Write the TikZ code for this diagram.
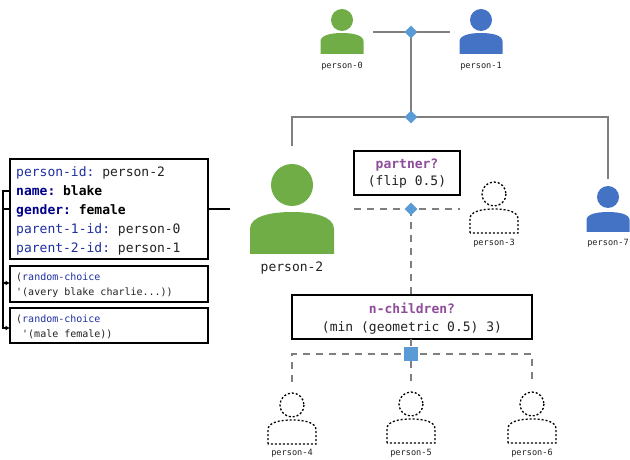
\documentclass[tikz,border=0pt]{standalone}
\usepackage{fontspec}
\setmainfont{DejaVu Sans Mono}[Ligatures=TeXOff]
\usetikzlibrary{arrows.meta,shapes.geometric}
\definecolor{pgreen}{HTML}{70AD47}
\definecolor{pblue}{HTML}{4472C4}
\definecolor{dmd}{HTML}{5B9BD5}
\definecolor{kw}{HTML}{1F2FA0}
\definecolor{kwb}{HTML}{00008B}
\definecolor{purp}{HTML}{8E4C9A}
\definecolor{lin}{HTML}{7F7F7F}
\definecolor{txt}{HTML}{222222}
\tikzset{
 x=1bp,y=-1bp,
 solidline/.style={draw=lin,line width=1.6bp},
 dashline/.style={draw=lin,line width=1.5bp,dash pattern=on 7bp off 6bp},
 blk/.style={draw=black,line width=1.3bp},
 junction/.style={diamond,fill=dmd,draw=none,minimum size=13bp,inner sep=0pt},
 squarej/.style={rectangle,fill=dmd,draw=none,minimum size=14bp,inner sep=0pt},
 box/.style={rectangle,draw=black,line width=1.7bp,fill=white,inner sep=0pt,outer sep=0pt,anchor=north west,align=left},
 tiny label/.style={font=\fontsize{8.6bp}{10bp}\selectfont,text=txt,inner sep=0pt},
 pdash/.style={draw=black,line width=1.3bp,dash pattern=on 2bp off 2bp,fill=white},
}
% #1 cx, #2 head cy, #3 body top, #4 body bottom, #5 halfwidth, #6 head r, #7 style
\newcommand{\personshape}[7]{%
 \path[#7] (#1,#2) circle[radius=#6];
 \path[#7] (#1-#5,#4) -- (#1-#5,#3+0.4*#4-0.4*#3) .. controls (#1-#5,#3+0.1*#4-0.1*#3) and (#1-0.5*#5,#3) .. (#1,#3) .. controls (#1+0.5*#5,#3) and (#1+#5,#3+0.1*#4-0.1*#3) .. (#1+#5,#3+0.4*#4-0.4*#3) -- (#1+#5,#4) -- cycle;
}
\begin{document}
\frenchspacing
\begin{tikzpicture}
\useasboundingbox (0,0) rectangle (630,460);
\path[fill=white] (0,0) rectangle (630,460);
% coordinates
\coordinate (l0) at (373,32); \coordinate (r0) at (450,32);
\coordinate (tl) at (292,117); \coordinate (tr) at (608,117);
\coordinate (tle) at (292,146); \coordinate (tre) at (608,179);
\coordinate (pl) at (354,209); \coordinate (pr) at (460,209);
\coordinate (cl) at (292,354); \coordinate (cr) at (532,354);
\coordinate (cle) at (292,382); \coordinate (cme) at (411,381); \coordinate (cre) at (532,382);
\coordinate (stub) at (230,209);
% boxes
\node[box,minimum width=198bp,minimum height=100bp] (main) at (10,159) {};
\node[box,minimum width=198bp,minimum height=36bp] (c1) at (10,266) {};
\node[box,minimum width=198bp,minimum height=35bp] (c2) at (10,308) {};
\node[box,minimum width=106bp,minimum height=44bp] (partner) at (354,151) {};
\node[box,minimum width=240bp,minimum height=44bp] (nch) at (292,295) {};
% junction anchors
\coordinate (j0) at (411,32);
\coordinate (j1) at (411,117);
\coordinate (j2) at (411,209);
\coordinate (j3) at (411,354);
% connectors
\draw[solidline] (l0) -- (j0) -- (r0);
\draw[solidline] (j0) -- (j1);
\draw[solidline] (tle) -- (tl) -- (j1) -- (tr) -- (tre);
\draw[dashline] (pl) -- (j2) -- (pr);
\draw[dashline] (j2) -- (j2 |- nch.north);
\draw[dashline] (cle) -- (cl) -- (j3) -- (cr) -- (cre);
\draw[dashline] (j3 |- nch.south) -- (j3);
\draw[dashline] (cme) -- (j3);
\node[junction] (d0) at (j0) {};
\node[junction] (d1) at (j1) {};
\node[junction] (d2) at (j2) {};
\node[squarej] (d3) at (j3) {};
\draw[blk] (main.east |- stub) -- (stub);
\coordinate (a1) at (10,191); \coordinate (a2) at (10,209);
\coordinate (v1) at (3,191); \coordinate (v2) at (3,209); \coordinate (v3) at (3,283); \coordinate (v4) at (3,328);
\coordinate (b1) at (10,283); \coordinate (b2) at (10,328);
\draw[blk,line width=1.2bp,-{Latex[length=4.5bp,width=5bp]}] (a1) -- (v1) -- (v4) -- (b2);
\draw[blk,line width=1.2bp] (a2) -- (v2);
\draw[blk,line width=1.2bp,-{Latex[length=4.5bp,width=5bp]}] (v3) -- (b1);
% main box text
\node[inner sep=0pt,anchor=west,align=left,font=\fontsize{13bp}{18.8bp}\selectfont] (maintext) at (16,211) {%
\textcolor{kw}{person-id:} \textcolor{txt}{person-2}\\
\textcolor{kwb}{\textbf{name:}} \textbf{blake}\\
\textcolor{kwb}{\textbf{gender:}} \textbf{female}\\
\textcolor{kw}{parent-1-id:} \textcolor{txt}{person-0}\\
\textcolor{kw}{parent-2-id:} \textcolor{txt}{person-1}};
\node[inner sep=0pt,anchor=west,align=left,text=txt,font=\fontsize{10bp}{15bp}\selectfont] (c1t) at (16,285) {(\textcolor{kw}{random-choice}\\'(avery blake charlie...))};
\node[inner sep=0pt,anchor=west,align=left,text=txt,font=\fontsize{10bp}{15bp}\selectfont] (c2t) at (16,327) {(\textcolor{kw}{random-choice}\\\hspace*{6bp}'(male female))};
\node[inner sep=0pt,align=center,text=txt,font=\fontsize{13bp}{17.5bp}\selectfont] (pt) at (407,173.5) {\textcolor{purp}{\textbf{partner?}}\\(flip 0.5)};
\node[inner sep=0pt,align=center,text=txt,font=\fontsize{13bp}{17.5bp}\selectfont] (nt) at (412,318.5) {\textcolor{purp}{\textbf{n-children?}}\\(min (geometric 0.5) 3)};
% people
\personshape{342}{20}{33}{54}{21.5}{11}{fill=pgreen}
\personshape{481}{20}{33}{54}{21.5}{11}{fill=pblue}
\personshape{608}{197}{212}{232}{21.5}{11}{fill=pblue}
\personshape{292}{185}{212}{254}{42}{21}{fill=pgreen}
\personshape{494}{194}{209}{233}{24}{12}{pdash}
\personshape{292}{405}{420}{444}{24}{12}{pdash}
\personshape{411}{404}{419}{443}{24}{12}{pdash}
\personshape{532}{404}{419}{443}{24}{12}{pdash}
% labels
\node[tiny label] (n0) at (342,66) {person-0};
\node[tiny label] (n1) at (481,66) {person-1};
\node[tiny label,font=\fontsize{13bp}{15bp}\selectfont] (n2) at (292,268) {person-2};
\node[tiny label] (n3) at (494,243) {person-3};
\node[tiny label] (n7) at (608,243) {person-7};
\node[tiny label] (n4) at (292,453) {person-4};
\node[tiny label] (n5) at (411,453) {person-5};
\node[tiny label] (n6) at (532,453) {person-6};
\end{tikzpicture}
\end{document}
